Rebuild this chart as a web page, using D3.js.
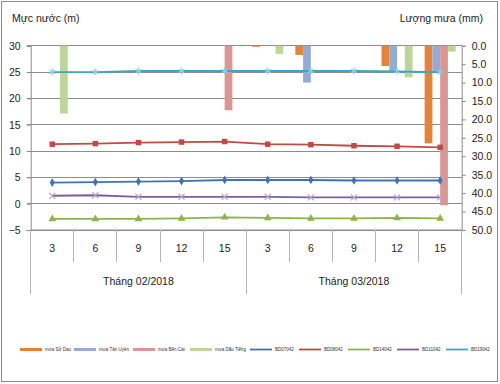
<!DOCTYPE html>
<html><head><meta charset="utf-8">
<script src="https://cdn.jsdelivr.net/npm/d3@7"></script>
<style>body{margin:0;background:#fff}svg{display:block}text{font-family:"Liberation Sans",Arial,sans-serif}</style>
</head><body><svg id="c" width="500" height="384"></svg>
<script>
const months = ["Tháng 02/2018", "Tháng 03/2018"];
const days = ["3", "6", "9", "12", "15"];
const categories = months.flatMap((m, i) => days.map(d => i + "-" + d));
const leftTicks = [-5, 0, 5, 10, 15, 20, 25, 30];
const rightTicks = [0, 5, 10, 15, 20, 25, 30, 35, 40, 45, 50];

const barSeries = ["mưa Sở Dao", "mưa Tân Uyên", "mưa Bến Cát", "mưa Dầu Tiếng"];
const rainSoDao    = [0, 0, 0, 0, 0,    0.3, 2.5, 0, 5.5, 26.5];
const rainTanUyen  = [0, 0, 0, 0, 0,    0, 10.0, 0, 7.2, 7.1];
const rainBenCat   = [0, 0, 0, 0, 17.5, 0.1, 0, 0, 0, 43.3];
const rainDauTieng = [18.4, 0, 0, 0, 0, 2.2, 0, 0, 8.6, 1.6];
const barValues = [rainSoDao, rainTanUyen, rainBenCat, rainDauTieng];

const lineSeries = ["BD07042", "BD08042", "BD14042", "BD11042", "BD19042"];
const lvl1 = [4.0, 4.1, 4.2, 4.3, 4.5, 4.5, 4.5, 4.4, 4.4, 4.4];
const lvl2 = [11.3, 11.4, 11.6, 11.7, 11.8, 11.3, 11.2, 11.0, 10.9, 10.7];
const lvl3 = [-2.9, -2.9, -2.9, -2.8, -2.6, -2.7, -2.8, -2.8, -2.7, -2.8];
const lvl4 = [1.5, 1.6, 1.3, 1.3, 1.3, 1.3, 1.2, 1.2, 1.2, 1.2];
const lvl5 = [25.0, 25.0, 25.2, 25.2, 25.2, 25.2, 25.2, 25.2, 25.1, 25.0];
const lineValues = [lvl1, lvl2, lvl3, lvl4, lvl5];

const barColors = ["#e3843a", "#95abd6", "#d99694", "#bdd49a"];
const lineColors = ["#3f73b4", "#be4b48", "#8cb44c", "#7d5fa0", "#3ea5c2"];
const markers = ["diamond", "square", "triangle", "x", "asterisk"];

const svg = d3.select("#c");
const L = 30.7, R = 461.7, T = 45.7, B = 230;
const grid = "#8c8c8c";

svg.append("rect").attr("x", 1.5).attr("y", 1.5).attr("width", 496).attr("height", 380)
  .attr("fill", "#fff").attr("stroke", "#8a8a8a").attr("stroke-width", 1);

const x0 = d3.scaleBand().domain(categories).range([L, R]).padding(0);
const bw = x0.bandwidth();
const x1 = d3.scaleBand().domain(barSeries).range([bw * 0.14, bw * 0.86]).padding(0);
const yL = d3.scaleLinear().domain([-5, 30]).range([B, T]);
const yR = d3.scaleLinear().domain([0, 50]).range([T, B]);

// gridlines
svg.append("g").selectAll("line").data(leftTicks).join("line")
  .attr("x1", L - 4).attr("x2", R).attr("y1", d => yL(d)).attr("y2", d => yL(d))
  .attr("stroke", grid).attr("stroke-width", 1).attr("shape-rendering", "crispEdges");

// left axis
const gl = svg.append("g").attr("transform", `translate(${L},0)`)
  .call(d3.axisLeft(yL).tickValues(leftTicks).tickSize(4).tickPadding(6));
gl.select(".domain").attr("stroke", grid);
gl.selectAll(".tick line").attr("stroke", grid);
gl.selectAll("text").attr("font-size", 10.5).attr("fill", "#222").attr("font-family", "Liberation Sans, Arial");

// right axis
const gr = svg.append("g").attr("transform", `translate(${R},0)`)
  .call(d3.axisRight(yR).tickValues(rightTicks).tickSize(4).tickPadding(6).tickFormat(d3.format(".1f")));
gr.select(".domain").attr("stroke", grid);
gr.selectAll(".tick line").attr("stroke", grid);
gr.selectAll("text").attr("font-size", 10.5).attr("fill", "#222").attr("font-family", "Liberation Sans, Arial");

// category axis
const gx = svg.append("g").attr("transform", `translate(0,${B})`);
gx.append("line").attr("x1", L).attr("x2", R).attr("y1", 0).attr("y2", 0).attr("stroke", grid);
const bounds = categories.map(c => x0(c)).concat([R]);
gx.selectAll("line.sep").data(bounds).join("line").attr("class", "sep")
  .attr("x1", d => d).attr("x2", d => d).attr("y1", 0)
  .attr("y2", (d, i) => (i % days.length === 0) ? 64 : 32)
  .attr("stroke", "#b5b5b5").attr("stroke-width", 1).attr("shape-rendering", "crispEdges");
gx.selectAll("text.day").data(categories).join("text").attr("class", "day")
  .attr("x", d => x0(d) + bw / 2).attr("y", 22).attr("text-anchor", "middle")
  .attr("font-size", 10.5).attr("fill", "#222").text(d => d.split("-")[1]);
gx.selectAll("text.month").data(months).join("text").attr("class", "month")
  .attr("x", (m, i) => (x0(i + "-" + days[0]) + x0(i + "-" + days[days.length - 1]) + bw) / 2)
  .attr("y", 55).attr("text-anchor", "middle").attr("font-size", 10.5).attr("fill", "#222").text(m => m);

// bars
barSeries.forEach((s, si) => {
  svg.append("g").selectAll("rect").data(barValues[si]).join("rect")
    .attr("x", (d, i) => x0(categories[i]) + x1(s))
    .attr("y", yR(0)).attr("width", x1.bandwidth())
    .attr("height", d => yR(d) - yR(0)).attr("fill", barColors[si]);
});

// lines
const sym = {
  diamond: d3.symbol().type(d3.symbolDiamond).size(22),
  square: d3.symbol().type(d3.symbolSquare).size(30),
  triangle: d3.symbol().type(d3.symbolTriangle).size(26),
  x: d3.symbol().type(d3.symbolX).size(26),
  asterisk: d3.symbol().type(d3.symbolAsterisk).size(30)
};
lineSeries.forEach((s, si) => {
  const vals = lineValues[si];
  const line = d3.line().x((d, i) => x0(categories[i]) + bw / 2).y(d => yL(d));
  svg.append("path").datum(vals).attr("d", line).attr("fill", "none")
    .attr("stroke", lineColors[si]).attr("stroke-width", 1.8);
  const m = markers[si];
  const stroked = (m === "x" || m === "asterisk");
  svg.append("g").selectAll("path").data(vals).join("path")
    .attr("transform", (d, i) => `translate(${x0(categories[i]) + bw / 2},${yL(d)})`)
    .attr("d", sym[m]())
    .attr("fill", stroked ? "none" : lineColors[si])
    .attr("stroke", stroked ? (si === 3 ? "#b9a6d0" : "#8dcfe2") : "none")
    .attr("stroke-width", 1.2);
});

// axis titles
svg.append("text").attr("x", 12).attr("y", 22).attr("font-size", 10.5).attr("fill", "#222").text("Mực nước (m)");
svg.append("text").attr("x", 483).attr("y", 22).attr("text-anchor", "end").attr("font-size", 10.5).attr("fill", "#222").text("Lượng mưa (mm)");

// legend
const legX = [20, 74, 133, 190, 250, 299, 348, 397, 446];
const legItems = barSeries.map((s, i) => ({name: s, color: barColors[i], bar: true}))
  .concat(lineSeries.map((s, i) => ({name: s, color: lineColors[i], bar: false})));
const lg = svg.append("g");
legItems.forEach((it, i) => {
  const gx0 = legX[i];
  lg.append("line").attr("x1", gx0).attr("x2", gx0 + 22).attr("y1", 349.5).attr("y2", 349.5)
    .attr("stroke", it.color).attr("stroke-width", it.bar ? 3 : 1.8);
  lg.append("text").attr("x", gx0 + 25).attr("y", 351).attr("font-size", 4.5).attr("fill", "#333").text(it.name);
});
</script></body></html>
